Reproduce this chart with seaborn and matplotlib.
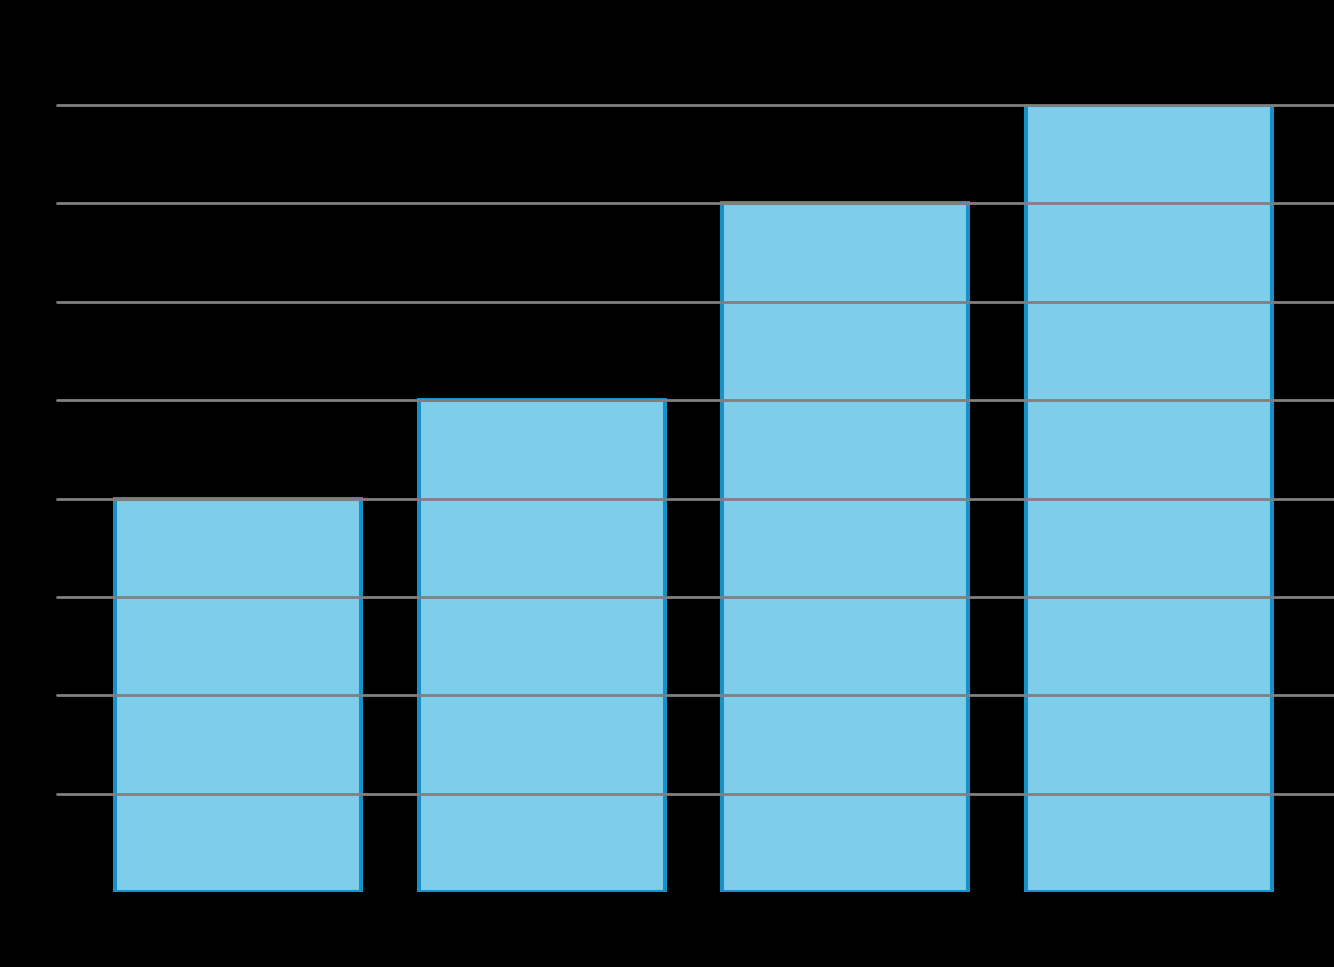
import matplotlib
matplotlib.use("Agg")
import matplotlib.pyplot as plt
import seaborn as sns
import pandas as pd

categories = ["A", "B", "C", "D"]
values = [4, 5, 7, 8]
y_ticks = [1, 2, 3, 4, 5, 6, 7, 8]

df = pd.DataFrame({"category": categories, "value": values})

sns.set_style("white")
fig = plt.figure(figsize=(13.34, 9.67), dpi=100, facecolor="black")
ax = fig.add_axes([57 / 1334, 1 - 892 / 967, 1 - 57 / 1334, (892 - 105) / 967])
ax.set_facecolor("black")

sns.barplot(data=df, x="category", y="value", ax=ax, width=0.81,
            color="#7ecdea", edgecolor="#1791c6", linewidth=2.9,
            saturation=1)

ax.set_ylim(0, 8)
ax.set_xlim(-0.596, 3.61)
ax.set_yticks(y_ticks)
ax.yaxis.grid(True, color="#808080", linewidth=2.0)
for gl in ax.get_ygridlines():
    gl.set_clip_on(False)
ax.set_axisbelow(False)
ax.tick_params(left=False, bottom=False, labelleft=False, labelbottom=False)
ax.set_xlabel("")
ax.set_ylabel("")
for s in ax.spines.values():
    s.set_visible(False)

fig.savefig("out.png", dpi=100, facecolor="black")
